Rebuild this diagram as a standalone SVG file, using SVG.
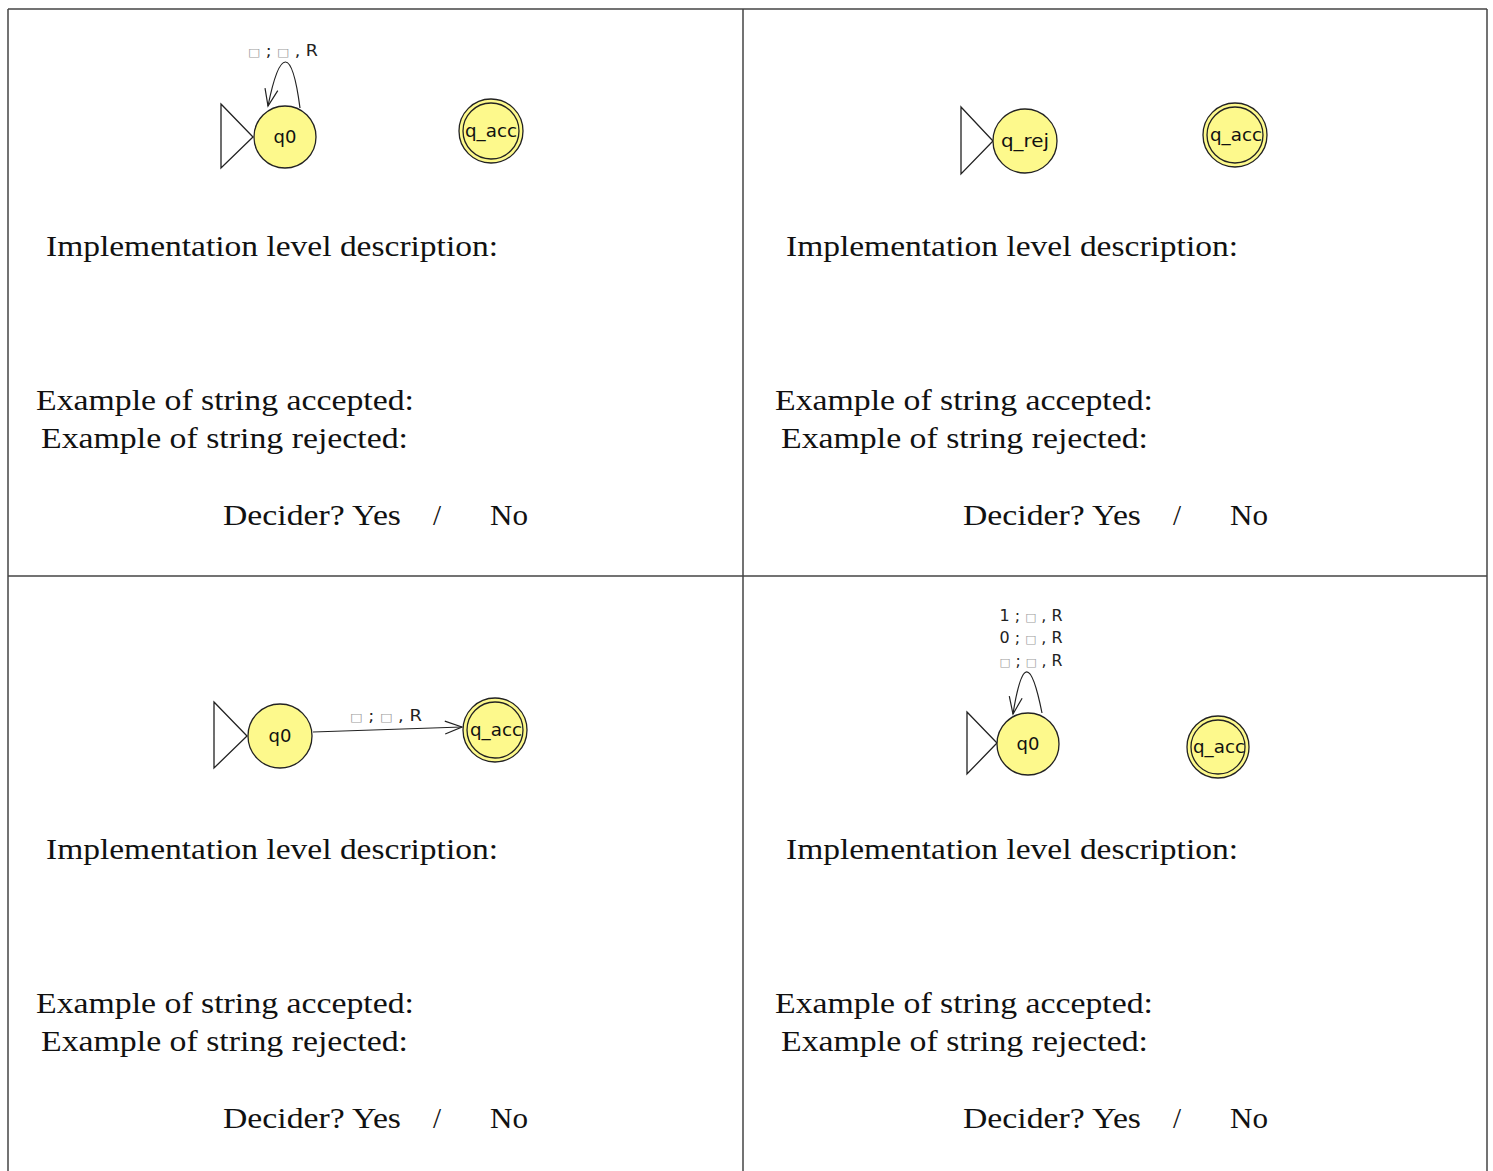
<svg xmlns="http://www.w3.org/2000/svg" width="1493" height="1171" viewBox="0 0 1493 1171">
<style>
.frame{stroke:#444;stroke-width:1.5;fill:none}
.txt{font-family:"Liberation Serif","DejaVu Serif",serif;font-size:29px;fill:#111}
.st{fill:#fdf98c;stroke:#222;stroke-width:1.3}
.init{fill:none;stroke:#222;stroke-width:1.3}
.lbl{font-family:"DejaVu Sans","Noto Sans",sans-serif;font-size:18px;fill:#111;text-anchor:middle}
.tl{font-family:"DejaVu Sans","Noto Sans",sans-serif;font-size:15px;fill:#222;text-anchor:middle}
.bx{fill:#9a9a9a;font-size:11px}
.edge{fill:none;stroke:#222;stroke-width:1.2}
</style>
<defs>
<marker id="arr" markerUnits="userSpaceOnUse" markerWidth="24" markerHeight="20" viewBox="-20 -10 24 20" refX="0" refY="0" orient="auto">
<path d="M-17,-6.5 L0,0 L-17,6.5" fill="none" stroke="#222" stroke-width="1.2"/>
</marker>
</defs>
<rect width="1493" height="1171" fill="#fff"/>
<g id="table">
<line class="frame" x1="8" y1="9" x2="1487" y2="9"/>
<line class="frame" x1="8" y1="9" x2="8" y2="1171"/>
<line class="frame" x1="743" y1="9" x2="743" y2="1171"/>
<line class="frame" x1="1487" y1="9" x2="1487" y2="1171"/>
<line class="frame" x1="8" y1="576" x2="1487" y2="576"/>
</g>
<g id="texts">
<text class="txt" x="46" y="256" textLength="452" lengthAdjust="spacingAndGlyphs">Implementation level description:</text>
<text class="txt" x="36" y="410" textLength="378" lengthAdjust="spacingAndGlyphs">Example of string accepted:</text>
<text class="txt" x="41" y="448" textLength="367" lengthAdjust="spacingAndGlyphs">Example of string rejected:</text>
<text class="txt" x="223" y="525" textLength="178" lengthAdjust="spacingAndGlyphs">Decider? Yes</text>
<text class="txt" x="433" y="525">/</text>
<text class="txt" x="490" y="525" textLength="38" lengthAdjust="spacingAndGlyphs">No</text>

<text class="txt" x="786" y="256" textLength="452" lengthAdjust="spacingAndGlyphs">Implementation level description:</text>
<text class="txt" x="775" y="410" textLength="378" lengthAdjust="spacingAndGlyphs">Example of string accepted:</text>
<text class="txt" x="781" y="448" textLength="367" lengthAdjust="spacingAndGlyphs">Example of string rejected:</text>
<text class="txt" x="963" y="525" textLength="178" lengthAdjust="spacingAndGlyphs">Decider? Yes</text>
<text class="txt" x="1173" y="525">/</text>
<text class="txt" x="1230" y="525" textLength="38" lengthAdjust="spacingAndGlyphs">No</text>

<text class="txt" x="46" y="859" textLength="452" lengthAdjust="spacingAndGlyphs">Implementation level description:</text>
<text class="txt" x="36" y="1013" textLength="378" lengthAdjust="spacingAndGlyphs">Example of string accepted:</text>
<text class="txt" x="41" y="1051" textLength="367" lengthAdjust="spacingAndGlyphs">Example of string rejected:</text>
<text class="txt" x="223" y="1128" textLength="178" lengthAdjust="spacingAndGlyphs">Decider? Yes</text>
<text class="txt" x="433" y="1128">/</text>
<text class="txt" x="490" y="1128" textLength="38" lengthAdjust="spacingAndGlyphs">No</text>

<text class="txt" x="786" y="859" textLength="452" lengthAdjust="spacingAndGlyphs">Implementation level description:</text>
<text class="txt" x="775" y="1013" textLength="378" lengthAdjust="spacingAndGlyphs">Example of string accepted:</text>
<text class="txt" x="781" y="1051" textLength="367" lengthAdjust="spacingAndGlyphs">Example of string rejected:</text>
<text class="txt" x="963" y="1128" textLength="178" lengthAdjust="spacingAndGlyphs">Decider? Yes</text>
<text class="txt" x="1173" y="1128">/</text>
<text class="txt" x="1230" y="1128" textLength="38" lengthAdjust="spacingAndGlyphs">No</text>
</g>

<g id="connectors">
<path class="edge" d="M300,108 C292,47 280,47 268,106" marker-end="url(#arr)"/>
<text class="tl" x="283" y="56" textLength="70" lengthAdjust="spacingAndGlyphs"><tspan class="bx">□</tspan> ; <tspan class="bx">□</tspan> , R</text>

<path class="edge" d="M313,732 L462,727" marker-end="url(#arr)"/>
<text class="tl" x="386" y="721" textLength="72" lengthAdjust="spacingAndGlyphs"><tspan class="bx">□</tspan> ; <tspan class="bx">□</tspan> , R</text>

<path class="edge" d="M1042,713 C1031,658 1022,658 1013,714" marker-end="url(#arr)"/>
<text class="tl" x="1031" y="621" textLength="63" lengthAdjust="spacingAndGlyphs">1 ; <tspan class="bx">□</tspan> , R</text>
<text class="tl" x="1031" y="643" textLength="63" lengthAdjust="spacingAndGlyphs">0 ; <tspan class="bx">□</tspan> , R</text>
<text class="tl" x="1031" y="666" textLength="63" lengthAdjust="spacingAndGlyphs"><tspan class="bx">□</tspan> ; <tspan class="bx">□</tspan> , R</text>
</g>

<g id="tl_q0">
<polygon class="init" points="221,104 253,137 221,168"/>
<circle class="st" cx="285" cy="137" r="31"/>
<text class="lbl" x="285" y="143">q0</text>
</g>
<g id="tl_qacc">
<circle class="st" cx="491" cy="131" r="32"/>
<circle class="st" cx="491" cy="131" r="28"/>
<text class="lbl" x="491" y="137" textLength="52" lengthAdjust="spacingAndGlyphs">q_acc</text>
</g>

<g id="tr_qrej">
<polygon class="init" points="961,107 993,141 961,174"/>
<circle class="st" cx="1025" cy="141" r="32"/>
<text class="lbl" x="1025" y="147" textLength="48" lengthAdjust="spacingAndGlyphs">q_rej</text>
</g>
<g id="tr_qacc">
<circle class="st" cx="1235" cy="135" r="32"/>
<circle class="st" cx="1235" cy="135" r="28"/>
<text class="lbl" x="1236" y="141" textLength="52" lengthAdjust="spacingAndGlyphs">q_acc</text>
</g>

<g id="bl_q0">
<polygon class="init" points="214,702 247,736 214,768"/>
<circle class="st" cx="280" cy="736" r="32"/>
<text class="lbl" x="280" y="742">q0</text>
</g>
<g id="bl_qacc">
<circle class="st" cx="495" cy="730" r="32"/>
<circle class="st" cx="495" cy="730" r="28"/>
<text class="lbl" x="496" y="736" textLength="52" lengthAdjust="spacingAndGlyphs">q_acc</text>
</g>

<g id="br_q0">
<polygon class="init" points="967,712 997,743 967,774"/>
<circle class="st" cx="1028" cy="744" r="31"/>
<text class="lbl" x="1028" y="750">q0</text>
</g>
<g id="br_qacc">
<circle class="st" cx="1218" cy="747" r="31"/>
<circle class="st" cx="1218" cy="747" r="27"/>
<text class="lbl" x="1219" y="753" textLength="52" lengthAdjust="spacingAndGlyphs">q_acc</text>
</g>
</svg>
